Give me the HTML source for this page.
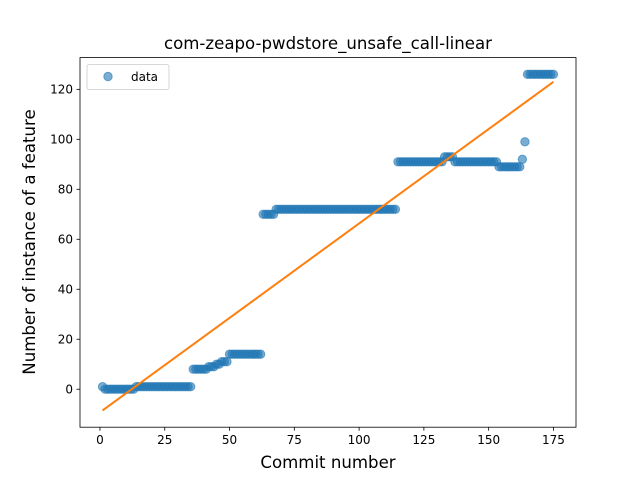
<!DOCTYPE html>
<html><head><meta charset="utf-8"><style>
body{margin:0;background:#fff;}
svg text{font-family:"DejaVu Sans","Liberation Sans",sans-serif;}
</style></head><body>
<svg id="chart" width="640" height="480" xmlns="http://www.w3.org/2000/svg">
<rect width="640" height="480" fill="#fff"/>
<text x="328" y="49" text-anchor="middle" font-size="16.6">com-zeapo-pwdstore_unsafe_call-linear</text>
<g id="plot"></g>
<rect x="80" y="57.6" width="496" height="369.6" fill="none" stroke="#000" stroke-width="0.8"/>
<text x="328" y="468" text-anchor="middle" font-size="16.6">Commit number</text>
<text transform="translate(35,242) rotate(-90)" text-anchor="middle" font-size="16.6">Number of instance of a feature</text>
<g>
<rect x="87" y="64.6" width="82" height="25" rx="2" fill="#fff" fill-opacity="0.8" stroke="#ccc" stroke-width="0.8"/>
<circle cx="108" cy="76.5" r="4.2" fill="#1f77b4" fill-opacity="0.6" stroke="#1f77b4" stroke-opacity="0.6"/>
<text x="131" y="81" font-size="12">data</text>
</g>
</svg>
<script>
const runValues = [1, 0, 1, 8, 9, 10, 11, 14, 70, 72, 91, 93, 91, 89, 92, 99, 126];
const runLengths = [1, 12, 22, 6, 3, 2, 3, 13, 5, 47, 18, 4, 17, 9, 1, 1, 11];
const fitX = [1, 175];
const fitY = [-8.5, 123];
const xTicks = [0, 25, 50, 75, 100, 125, 150, 175];
const yTicks = [0, 20, 40, 60, 80, 100, 120];

const X0=80,X1=576,Y0=427.2,Y1=57.6;
const xmin=-7.7,xmax=183.7,ymin=-15.2,ymax=132.7;
const sx=v=>X0+(v-xmin)/(xmax-xmin)*(X1-X0);
const sy=v=>Y0-(v-ymin)/(ymax-ymin)*(Y0-Y1);
const NS="http://www.w3.org/2000/svg";
const svg=document.getElementById('chart');
const plot=document.getElementById('plot');
function mk(t,a,p){const e=document.createElementNS(NS,t);for(const k in a)e.setAttribute(k,a[k]);(p||svg).appendChild(e);return e;}

let xi=1;
for(let r=0;r<runValues.length;r++){
  for(let k=0;k<runLengths[r];k++){
    const c=mk('circle',{cx:sx(xi),cy:sy(runValues[r]),r:4.2,fill:'#1f77b4','fill-opacity':0.6,stroke:'#1f77b4','stroke-opacity':0.6},plot);
    
    
    xi++;
  }
}
const ln=mk('line',{x1:sx(fitX[0]),y1:sy(fitY[0]),x2:sx(fitX[1]),y2:sy(fitY[1]),stroke:'#ff7f0e','stroke-width':2},plot);



xTicks.forEach(t=>{
  const x=sx(t);
  const l=mk('line',{x1:x,y1:Y0,x2:x,y2:Y0+3.5,stroke:'#000','stroke-width':0.8});
  
  
  const tx=mk('text',{x:x,y:Y0+17,'text-anchor':'middle','font-size':12});
  tx.textContent=t;
  
  
});
yTicks.forEach(t=>{
  const y=sy(t);
  const l=mk('line',{x1:X0-3.5,y1:y,x2:X0,y2:y,stroke:'#000','stroke-width':0.8});
  
  
  const tx=mk('text',{x:X0-7,y:y+4.3,'text-anchor':'end','font-size':12});
  tx.textContent=t;
  
  
});
</script>
</body></html>
